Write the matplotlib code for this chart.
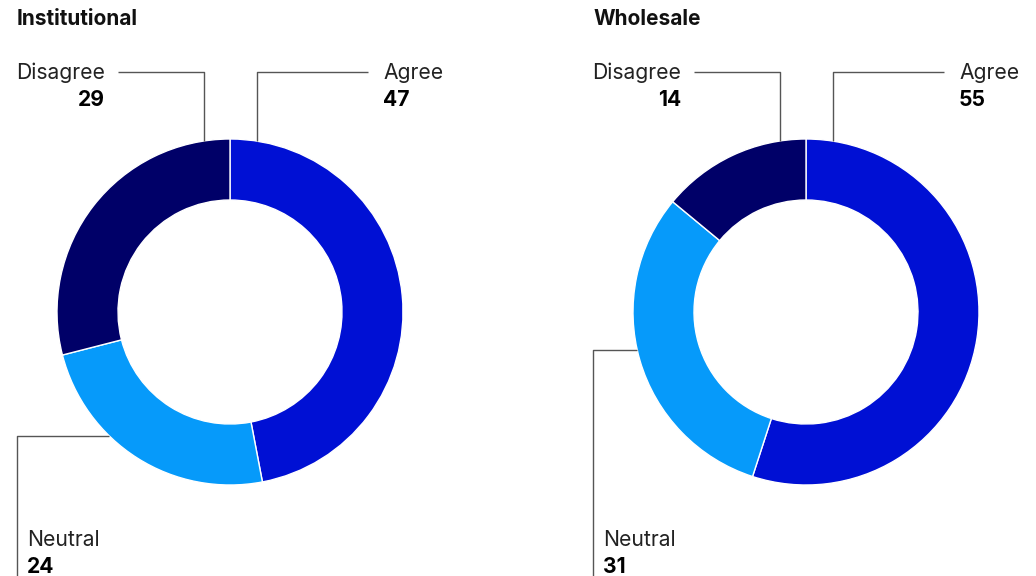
import matplotlib
import matplotlib.pyplot as plt
import numpy as np

matplotlib.rcParams["font.family"] = ["Inter", "DejaVu Sans"]

W, H = 1036, 576

titles = ["Institutional", "Wholesale"]
categories = ["Agree", "Neutral", "Disagree"]
values = [[47, 24, 29], [55, 31, 14]]
colors = ["#0010d4", "#069afa", "#000068"]

# donut layout in pixel space (y measured from the top)
centers = [(230, 312), (806, 312)]
r_out = 173
r_in = 112


def ring_point(cx, cy, x=None, y=None):
    # point on the outer ring for a given x (top) or y (left side)
    if x is not None:
        return x, cy - np.sqrt(r_out**2 - (x - cx) ** 2)
    return cx - np.sqrt(r_out**2 - (y - cy) ** 2), y


fig = plt.figure(figsize=(W / 100, H / 100), dpi=100)
ax = fig.add_axes([0, 0, 1, 1])

line_kw = dict(color="#555555", lw=1.0, solid_capstyle="butt")
lab_kw = dict(fontsize=15.2, color="#222222", va="center")
num_kw = dict(fontsize=15.2, color="#000000", fontweight="bold", va="center")

for i, (cx, cy) in enumerate(centers):
    ax.pie(
        values[i],
        colors=colors,
        startangle=90,
        counterclock=False,
        center=(cx, H - cy),
        radius=r_out,
        wedgeprops=dict(width=r_out - r_in, edgecolor="white", linewidth=1.0),
        frame=True,
    )
    ax.text(cx - 213, H - 19, titles[i], fontsize=15, fontweight="bold",
            va="center", ha="left", color="#111111")

    # Agree: up from the ring then right
    ax_, ay_ = ring_point(cx, cy, x=cx + 27)
    ax.plot([ax_, ax_, cx + 138], [H - ay_, H - 72, H - 72], **line_kw)
    ax.text(cx + 153, H - 73, categories[0], ha="left", **lab_kw)
    ax.text(cx + 153, H - 100, str(values[i][0]), ha="left", **num_kw)

    # Disagree: up from the ring then left
    dx_, dy_ = ring_point(cx, cy, x=cx - 26)
    ax.plot([dx_, dx_, cx - 112], [H - dy_, H - 72, H - 72], **line_kw)
    ax.text(cx - 125, H - 73, categories[2], ha="right", **lab_kw)
    ax.text(cx - 125, H - 100, str(values[i][2]), ha="right", **num_kw)

    # Neutral: left from the ring then down
    ny = 436 if i == 0 else 350
    nx_, ny_ = ring_point(cx, cy, y=ny)
    ax.plot([nx_, cx - 213, cx - 213], [H - ny_, H - ny_, 0], **line_kw)
    ax.text(cx - 203, H - 540, categories[1], ha="left", **lab_kw)
    ax.text(cx - 203, H - 567, str(values[i][1]), ha="left", **num_kw)

ax.set_xlim(0, W)
ax.set_ylim(0, H)
ax.set_aspect("equal")
ax.axis("off")

fig.savefig("out.png", dpi=100)
